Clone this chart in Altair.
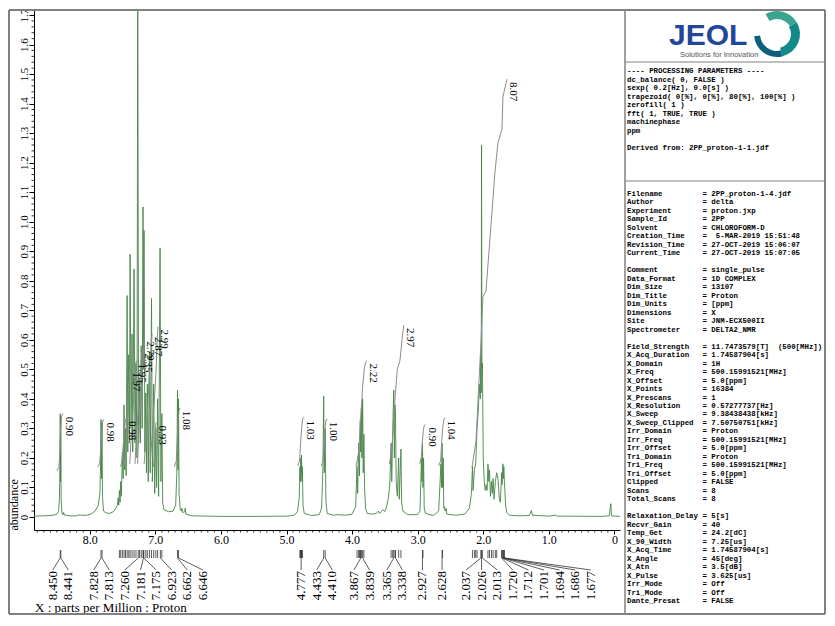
import altair as alt
import numpy as np
import pandas as pd

# ---------------- spectrum vertices (ppm, abundance) ----------------
r1_ppm = [8.85, 8.70, 8.56, 8.50, 8.475, 8.462, 8.455, 8.450, 8.446, 8.441, 8.436, 8.425, 8.41, 8.398, 8.39, 8.30,
          8.20, 8.15, 8.13, 8.05, 7.98, 7.92, 7.87, 7.845, 7.835, 7.828, 7.821, 7.813, 7.806, 7.79, 7.75, 7.70]
r1_int = [0.003, 0.004, 0.006, 0.010, 0.02, 0.06, 0.17, 0.35, 0.12, 0.34, 0.06, 0.015, 0.008, 0.016, 0.007, 0.004,
          0.004, 0.008, 0.006, 0.006, 0.01, 0.02, 0.04, 0.08, 0.18, 0.33, 0.13, 0.32, 0.07, 0.02, 0.014, 0.012]

r2_ppm = [7.64, 7.60, 7.58, 7.566, 7.558, 7.548, 7.538, 7.528, 7.518, 7.502, 7.49, 7.477, 7.467, 7.455, 7.445, 7.430,
          7.420, 7.405, 7.395, 7.385, 7.370, 7.355, 7.345, 7.325, 7.310, 7.295, 7.280, 7.268, 7.255, 7.240, 7.228,
          7.215, 7.200, 7.188, 7.180, 7.172, 7.160, 7.145, 7.135, 7.122, 7.108, 7.090, 7.078, 7.058, 7.045, 7.025,
          7.010, 6.992, 6.980, 6.965, 6.950, 6.928, 6.915, 6.900, 6.888, 6.87, 6.80, 6.73, 6.69, 6.672, 6.662, 6.655,
          6.646, 6.638, 6.62, 6.605, 6.595, 6.585, 6.55, 6.545, 6.535, 6.45]
r2_int = [0.018, 0.03, 0.04, 0.065, 0.04, 0.09, 0.05, 0.12, 0.07, 0.22, 0.13, 0.38, 0.16, 0.30, 0.14, 0.75,
          0.22, 0.55, 0.25, 0.89, 0.30, 0.62, 0.22, 0.84, 0.25, 0.52, 0.20, 1.80, 0.25, 0.45, 0.25,
          0.58, 0.30, 1.05, 0.50, 0.97, 0.22, 0.42, 0.15, 0.45, 0.12, 0.56, 0.15, 0.74, 0.12, 0.45,
          0.08, 0.30, 0.10, 0.40, 0.07, 0.91, 0.12, 0.35, 0.05, 0.025, 0.018, 0.02, 0.04, 0.15, 0.43, 0.16,
          0.40, 0.08, 0.025, 0.02, 0.03, 0.015, 0.018, 0.03, 0.01, 0.004]

r3_ppm = [6.0, 5.5, 5.0, 4.88, 4.83, 4.805, 4.795, 4.788, 4.782, 4.777, 4.771, 4.765, 4.758, 4.748, 4.73, 4.62,
          4.50, 4.465, 4.445, 4.433, 4.424, 4.410, 4.400, 4.38, 4.28, 4.22, 4.10, 4.0, 3.945, 3.925, 3.915, 3.900,
          3.888, 3.875, 3.867, 3.858, 3.850, 3.839, 3.830, 3.820, 3.810, 3.795, 3.77]
r3_int = [0.002, 0.002, 0.003, 0.006, 0.02, 0.07, 0.17, 0.12, 0.20, 0.15, 0.21, 0.12, 0.17, 0.04, 0.012, 0.005,
          0.008, 0.03, 0.16, 0.41, 0.15, 0.30, 0.06, 0.012, 0.006, 0.008, 0.006, 0.01, 0.035, 0.17, 0.08, 0.25,
          0.14, 0.33, 0.22, 0.37, 0.20, 0.40, 0.15, 0.28, 0.10, 0.03, 0.012]

r4_ppm = [3.70, 3.63, 3.60, 3.58, 3.53, 3.50, 3.48, 3.45, 3.425, 3.405, 3.395, 3.38, 3.365, 3.355, 3.345, 3.338,
          3.328, 3.31, 3.29, 3.28, 3.255, 3.245, 3.225, 3.15, 3.00, 2.965, 2.942, 2.935, 2.927, 2.919, 2.910, 2.900,
          2.88, 2.76, 2.68, 2.645, 2.637, 2.628, 2.620, 2.611, 2.602, 2.592, 2.582, 2.565, 2.555, 2.42]
r4_int = [0.01, 0.012, 0.02, 0.012, 0.025, 0.018, 0.03, 0.06, 0.11, 0.25, 0.12, 0.30, 0.43, 0.20, 0.38, 0.35,
          0.12, 0.07, 0.20, 0.06, 0.23, 0.05, 0.02, 0.008, 0.008, 0.02, 0.20, 0.12, 0.25, 0.10, 0.20, 0.03,
          0.012, 0.005, 0.02, 0.18, 0.10, 0.25, 0.10, 0.20, 0.03, 0.035, 0.02, 0.03, 0.01, 0.006]

r5_ppm = [2.28, 2.21, 2.18, 2.165, 2.155, 2.135, 2.115, 2.095, 2.075, 2.06, 2.045, 2.037, 2.031, 2.026, 2.020, 2.013,
          2.00, 1.985, 1.97, 1.955, 1.942, 1.928, 1.915, 1.905, 1.89, 1.875, 1.862, 1.85, 1.835, 1.815, 1.795, 1.775,
          1.755, 1.74, 1.725, 1.720, 1.712, 1.701, 1.694, 1.686, 1.677, 1.66, 1.64, 1.60, 1.45, 1.30, 1.265, 1.25,
          1.00, 0.90, 0.87, 0.20, 0.08, 0.055, 0.045, -0.085]
r5_int = [0.01, 0.03, 0.08, 0.17, 0.09, 0.16, 0.18, 0.30, 0.36, 0.45, 0.40, 0.55, 0.42, 1.26, 0.50, 0.52,
          0.20, 0.12, 0.09, 0.11, 0.09, 0.18, 0.12, 0.16, 0.07, 0.12, 0.08, 0.13, 0.06, 0.12, 0.15, 0.13,
          0.06, 0.05, 0.12, 0.15, 0.11, 0.18, 0.13, 0.17, 0.12, 0.04, 0.015, 0.006, 0.004, 0.005, 0.022, 0.006,
          0.003, 0.006, 0.003, 0.002, 0.004, 0.045, 0.004, 0.002]

# ---------------- integral curves ----------------
int_text = ["0.90", "0.98", "0.98", "1.97", "1.95", "2.35", "2.79", "2.87", "2.99", "0.93", "1.08",
            "1.03", "1.00", "2.22", "2.97", "0.90", "1.04", "8.07"]
int_ppm = [
    [8.50, 8.47, 8.455, 8.445, 8.43, 8.41],
    [7.88, 7.85, 7.835, 7.82, 7.805, 7.79],
    [7.53, 7.51, 7.49, 7.475, 7.46, 7.445],
    [7.47, 7.45, 7.43, 7.41, 7.39, 7.38],
    [7.39, 7.37, 7.34, 7.32, 7.30, 7.29],
    [7.31, 7.29, 7.26, 7.23, 7.21, 7.20],
    [7.27, 7.25, 7.22, 7.19, 7.175, 7.17],
    [7.17, 7.14, 7.11, 7.08, 7.06, 7.05],
    [7.08, 7.05, 7.02, 6.99, 6.97, 6.96],
    [7.03, 7.02, 7.01, 7.00, 6.995, 6.99],
    [6.71, 6.68, 6.665, 6.655, 6.64, 6.62],
    [4.83, 4.80, 4.785, 4.77, 4.755, 4.74],
    [4.47, 4.445, 4.43, 4.415, 4.40, 4.38],
    [3.94, 3.90, 3.87, 3.84, 3.81, 3.78],
    [3.43, 3.40, 3.37, 3.34, 3.31, 3.27, 3.23, 3.21],
    [2.97, 2.945, 2.93, 2.915, 2.90, 2.88],
    [2.68, 2.65, 2.635, 2.62, 2.60, 2.58],
    [2.172, 2.111, 2.081, 2.035, 2.005, 1.959, 1.867, 1.822, 1.776, 1.715, 1.700, 1.639],
]
int_lvl = [
    [0.157, 0.168, 0.22, 0.30, 0.34, 0.35],
    [0.17, 0.18, 0.22, 0.28, 0.32, 0.33],
    [0.17, 0.19, 0.24, 0.29, 0.32, 0.335],
    [0.18, 0.25, 0.36, 0.43, 0.49, 0.50],
    [0.18, 0.26, 0.37, 0.44, 0.51, 0.53],
    [0.18, 0.27, 0.36, 0.48, 0.55, 0.565],
    [0.18, 0.30, 0.42, 0.52, 0.59, 0.605],
    [0.18, 0.28, 0.40, 0.52, 0.60, 0.62],
    [0.18, 0.27, 0.38, 0.49, 0.61, 0.645],
    [0.17, 0.19, 0.24, 0.29, 0.31, 0.32],
    [0.17, 0.19, 0.26, 0.32, 0.36, 0.37],
    [0.173, 0.19, 0.25, 0.30, 0.33, 0.337],
    [0.173, 0.19, 0.25, 0.30, 0.325, 0.333],
    [0.17, 0.22, 0.33, 0.44, 0.51, 0.53],
    [0.18, 0.22, 0.30, 0.42, 0.50, 0.53, 0.62, 0.65],
    [0.18, 0.20, 0.25, 0.29, 0.31, 0.313],
    [0.173, 0.19, 0.25, 0.30, 0.33, 0.337],
    [0.167, 0.257, 0.39, 0.59, 0.747, 0.763, 1.033, 1.167, 1.267, 1.313, 1.423, 1.483],
]

# ---------------- peak picking ----------------
peak_ticks = [8.450, 8.441, 7.828, 7.813, 7.548, 7.528, 7.502, 7.477, 7.455, 7.430, 7.405, 7.385, 7.355, 7.325,
              7.295, 7.260, 7.240, 7.215, 7.188, 7.181, 7.175, 7.145, 7.122, 7.090, 7.058, 7.025, 6.992, 6.965,
              6.923, 6.900, 6.662, 6.646, 4.795, 4.788, 4.782, 4.777, 4.771, 4.765, 4.758, 4.433, 4.410, 3.925,
              3.900, 3.888, 3.875, 3.867, 3.858, 3.839, 3.820, 3.405, 3.380, 3.365, 3.345, 3.338, 3.290, 3.255,
              2.927, 2.919, 2.628, 2.620, 2.165, 2.135, 2.115, 2.095, 2.037, 2.026, 2.013, 1.928, 1.905, 1.875,
              1.850, 1.815, 1.795, 1.720, 1.712, 1.701, 1.694, 1.686, 1.677]
peak_labels = [8.450, 8.441, 7.828, 7.813, 7.260, 7.181, 7.175, 6.923, 6.662, 6.646, 4.777, 4.433, 4.410,
               3.867, 3.839, 3.365, 3.338, 2.927, 2.628, 2.037, 2.026, 2.013, 1.720, 1.712, 1.701, 1.694,
               1.686, 1.677]
label_groups = [[0, 1], [2, 3], [4, 5, 6, 7], [8, 9], [10], [11, 12], [13, 14], [15, 16], [17], [18],
                [19, 20, 21], [22, 23, 24, 25, 26, 27]]

y_ticks = [round(0.1 * k, 1) for k in range(18)]
x_ticks = list(range(0, 9))

proc_lines = ["---- PROCESSING PARAMETERS ----", "dc_balance( 0, FALSE )", "sexp( 0.2[Hz], 0.0[s] )",
              "trapezoid( 0[%], 0[%], 80[%], 100[%] )", "zerofill( 1 )", "fft( 1, TRUE, TRUE )",
              "machinephase", "ppm", "", "Derived from: 2PP_proton-1-1.jdf"]
meta_key = ["Filename", "Author", "Experiment", "Sample_Id", "Solvent", "Creation_Time", "Revision_Time",
            "Current_Time", "",
            "Comment", "Data_Format", "Dim_Size", "Dim_Title", "Dim_Units", "Dimensions", "Site", "Spectrometer", "",
            "Field_Strength", "X_Acq_Duration", "X_Domain", "X_Freq", "X_Offset", "X_Points", "X_Prescans",
            "X_Resolution", "X_Sweep", "X_Sweep_Clipped", "Irr_Domain", "Irr_Freq", "Irr_Offset", "Tri_Domain",
            "Tri_Freq", "Tri_Offset", "Clipped", "Scans", "Total_Scans", "",
            "Relaxation_Delay", "Recvr_Gain", "Temp_Get", "X_90_Width", "X_Acq_Time", "X_Angle", "X_Atn",
            "X_Pulse", "Irr_Mode", "Tri_Mode", "Dante_Presat"]
meta_val = ["2PP_proton-1-4.jdf", "delta", "proton.jxp", "2PP", "CHLOROFORM-D", "\u00a05-MAR-2019 15:51:48",
            "27-OCT-2019 15:06:07", "27-OCT-2019 15:07:05", "",
            "single_pulse", "1D COMPLEX", "13107", "Proton", "[ppm]", "X", "JNM-ECX500II", "DELTA2_NMR", "",
            "11.7473579[T] \u00a0(500[MHz])", "1.74587904[s]", "1H", "500.15991521[MHz]", "5.0[ppm]", "16384", "1",
            "0.57277737[Hz]", "9.38438438[kHz]", "7.50750751[kHz]", "Proton", "500.15991521[MHz]", "5.0[ppm]",
            "Proton", "500.15991521[MHz]", "5.0[ppm]", "FALSE", "8", "8", "",
            "5[s]", "40", "24.2[dC]", "7.25[us]", "1.74587904[s]", "45[deg]", "3.5[dB]", "3.625[us]", "Off",
            "Off", "FALSE"]

# ---------------- layout constants ----------------
X0, X1 = -0.085, 8.85
Y0, Y1 = -0.044, 1.717
W, H = 586, 520
SERIF = "Liberation Serif"
MONO = "Liberation Mono"
GREEN = "#468546"
FRAME = "#808080"

xs = alt.Scale(domain=[X0, X1], reverse=True, nice=False, zero=False)
ys = alt.Scale(domain=[Y0, Y1], nice=False, zero=False)


def gx(page_x):
    return page_x - 34


def gy(page_y):
    return page_y - 10


one = pd.DataFrame({"k": [0]})

# ---------------- spectrum ----------------
spec_ppm = r1_ppm + r2_ppm + r3_ppm + r4_ppm + r5_ppm
spec_int = r1_int + r2_int + r3_int + r4_int + r5_int
spec_df = pd.DataFrame({"i": range(len(spec_ppm)), "ppm": spec_ppm, "a": spec_int})

lab_expr = "datum.value == 0 ? '0' : format(datum.value, '.1f')"
xaxis = alt.Axis(values=x_ticks, labelExpr=lab_expr, title=None, tickSize=4, tickColor="black",
                 domainColor="black", labelFont=SERIF, labelFontSize=12, labelColor="black",
                 labelPadding=0, grid=False, labelFlush=False, labelOverlap=False)
yaxis = alt.Axis(values=y_ticks, labelExpr=lab_expr, labelAngle=270, labelAlign="center",
                 labelBaseline="middle", tickSize=5, tickColor="black", domainColor="black",
                 labelFont=SERIF, labelFontSize=11, labelColor="black", labelPadding=5, grid=False,
                 labelFlush=False, labelOverlap=False,
                 title="abundance", titleAngle=270, titleAlign="left", titleBaseline="middle",
                 titleX=-21, titleY=H, titleFont=SERIF, titleFontSize=12, titleFontWeight="normal",
                 titleColor="black")

spec = alt.Chart(spec_df).mark_line(color=GREEN, strokeWidth=0.9, clip=True).encode(
    x=alt.X("ppm:Q", scale=xs, axis=xaxis),
    y=alt.Y("a:Q", scale=ys, axis=yaxis),
    order=alt.Order("i:Q"),
)

# minor ticks
xt = [round(0.1 * k, 1) for k in range(0, 89) if k % 10 != 0]
yt = [round(0.02 * k, 2) for k in range(0, 86) if k % 5 != 0]
xminor = alt.Chart(pd.DataFrame({"t": xt})).mark_rule(color="black", strokeWidth=0.8).encode(
    x=alt.X("t:Q", scale=xs, axis=None), y=alt.value(H), y2=alt.value(H + 2.5))
yminor = alt.Chart(pd.DataFrame({"t": yt})).mark_rule(color="black", strokeWidth=0.8).encode(
    y=alt.Y("t:Q", scale=ys, axis=None), x=alt.value(-2.5), x2=alt.value(0))

# ---------------- integrals ----------------
rows = []
for c, (pp, ll) in enumerate(zip(int_ppm, int_lvl)):
    for j, (p, l) in enumerate(zip(pp, ll)):
        rows.append({"c": c, "j": j, "ppm": p, "lvl": l})
int_df = pd.DataFrame(rows)
integ = alt.Chart(int_df).mark_line(color="#8c8c8c", strokeWidth=1, clip=True).encode(
    x=alt.X("ppm:Q", scale=xs, axis=None),
    y=alt.Y("lvl:Q", scale=ys, axis=None),
    detail="c:N", order="j:Q")

ilab_df = pd.DataFrame({"ppm": [pp[-1] for pp in int_ppm], "lvl": [ll[-1] for ll in int_lvl], "t": int_text})
ilab = alt.Chart(ilab_df).mark_text(angle=90, align="left", baseline="bottom", font=SERIF, fontSize=11,
                                    color="black", xOffset=1, yOffset=3).encode(
    x=alt.X("ppm:Q", scale=xs, axis=None), y=alt.Y("lvl:Q", scale=ys, axis=None), text="t:N")

# ---------------- peak labels below axis (groups centred, pushed right on overlap) ----------------
SP = 15.6


def ppm2px(p):
    return (X1 - p) * W / (X1 - X0)


def px2ppm(x):
    return X1 - x * (X1 - X0) / W


lab_px = [0.0] * len(peak_labels)
prev_end = -1e9
for g in label_groups:
    c = float(np.mean([ppm2px(peak_labels[i]) for i in g]))
    start = c - (len(g) - 1) / 2 * SP
    if start < prev_end + SP:
        start = prev_end + SP
    for k, i in enumerate(g):
        lab_px[i] = start + k * SP
    prev_end = start + (len(g) - 1) * SP

pl_df = pd.DataFrame({"p": peak_labels, "lp": [px2ppm(x) for x in lab_px],
                      "t": ["%.3f" % v for v in peak_labels]})
pticks = alt.Chart(pd.DataFrame({"p": peak_ticks})).mark_rule(color="#333333", strokeWidth=0.8).encode(
    x=alt.X("p:Q", scale=xs, axis=None), y=alt.value(540), y2=alt.value(548))
pconn = alt.Chart(pl_df).mark_rule(color="#333333", strokeWidth=0.8).encode(
    x=alt.X("p:Q", scale=xs, axis=None), x2="lp:Q", y=alt.value(548), y2=alt.value(560))
plab = alt.Chart(pl_df).mark_text(angle=270, align="right", baseline="middle", font=SERIF, fontSize=13,
                                  color="black").encode(
    x=alt.X("lp:Q", scale=xs, axis=None), y=alt.value(561), text="t:N")

xtitle = alt.Chart(one).mark_text(text="X : parts per Million : Proton", align="left", baseline="middle",
                                  font=SERIF, fontSize=13, color="black").encode(
    x=alt.value(1), y=alt.value(598))

# ---------------- frame ----------------
L, R, T, B = -25, 791, 0, 604
DIV = gx(625)


def hline(y, x1, x2, w=1.5, c=FRAME):
    return alt.Chart(one).mark_rule(strokeWidth=w, color=c).encode(
        x=alt.value(x1), x2=alt.value(x2), y=alt.value(y))


def vline(x, y1, y2, w=1.5, c=FRAME):
    return alt.Chart(one).mark_rule(strokeWidth=w, color=c).encode(
        x=alt.value(x), y=alt.value(y1), y2=alt.value(y2))


frame = [hline(T, L, R, 2), hline(B, L, R, 2), vline(L, T, B, 2), vline(R, T, B, 2),
         vline(DIV, T, B, 1.5), hline(gy(62), DIV, R, 1.2), hline(gy(181), DIV, R, 1.2)]

# ---------------- right panel text ----------------
CW = 0.6 * 7.4
prow = []
for k, s in enumerate(proc_lines):
    if s:
        prow.append({"txt": s, "px": gx(627), "py": gy(71 + 8.5 * k)})
for k, (a, b) in enumerate(zip(meta_key, meta_val)):
    if a:
        prow.append({"txt": a, "px": gx(627), "py": gy(194 + 8.48 * k)})
        prow.append({"txt": "= " + b, "px": gx(627) + 17 * CW, "py": gy(194 + 8.48 * k)})
ptext = alt.Chart(pd.DataFrame(prow)).mark_text(font=MONO, fontWeight="bold", fontSize=7.4, align="left",
                                                baseline="middle", color="black").encode(
    x=alt.X("px:Q", scale=None), y=alt.Y("py:Q", scale=None), text="txt:N")

# ---------------- JEOL logo ----------------
jeol = alt.Chart(one).mark_text(text="JEOL", font="Liberation Sans", fontWeight="bold", fontSize=30,
                                color="#22479a", align="left", baseline="alphabetic").encode(
    x=alt.value(gx(669)), y=alt.value(gy(45)))
sol = alt.Chart(one).mark_text(text="Solutions for Innovation", font="Liberation Sans", fontSize=7.5,
                               color="#555555", align="left", baseline="middle").encode(
    x=alt.value(gx(680)), y=alt.value(gy(55)))
arc1 = alt.Chart(one).mark_arc(theta=5.76, theta2=7.3, radius=23, radius2=15, color="#3aa58e").encode(
    x=alt.value(gx(777)), y=alt.value(gy(34)))
arc2 = alt.Chart(one).mark_arc(theta=7.3, theta2=9.2, radius=23, radius2=14, color="#138a8a").encode(
    x=alt.value(gx(777)), y=alt.value(gy(34)))
arc3 = alt.Chart(one).mark_arc(theta=9.2, theta2=10.9, radius=23, radius2=17, color="#0e5f7c").encode(
    x=alt.value(gx(777)), y=alt.value(gy(34)))

chart = alt.layer(
    spec, xminor, yminor, integ, ilab, pticks, pconn, plab, xtitle, *frame, ptext, jeol, sol, arc1, arc2, arc3
).resolve_scale(x="independent", y="independent").properties(
    width=W, height=H,
    autosize=alt.AutoSizeParams(type="none"),
    padding={"left": 26, "top": 2, "right": 206, "bottom": 86},
    background="white",
).configure_view(stroke=None)

chart.save("out.html", embed_options={"renderer": "svg", "actions": False})
